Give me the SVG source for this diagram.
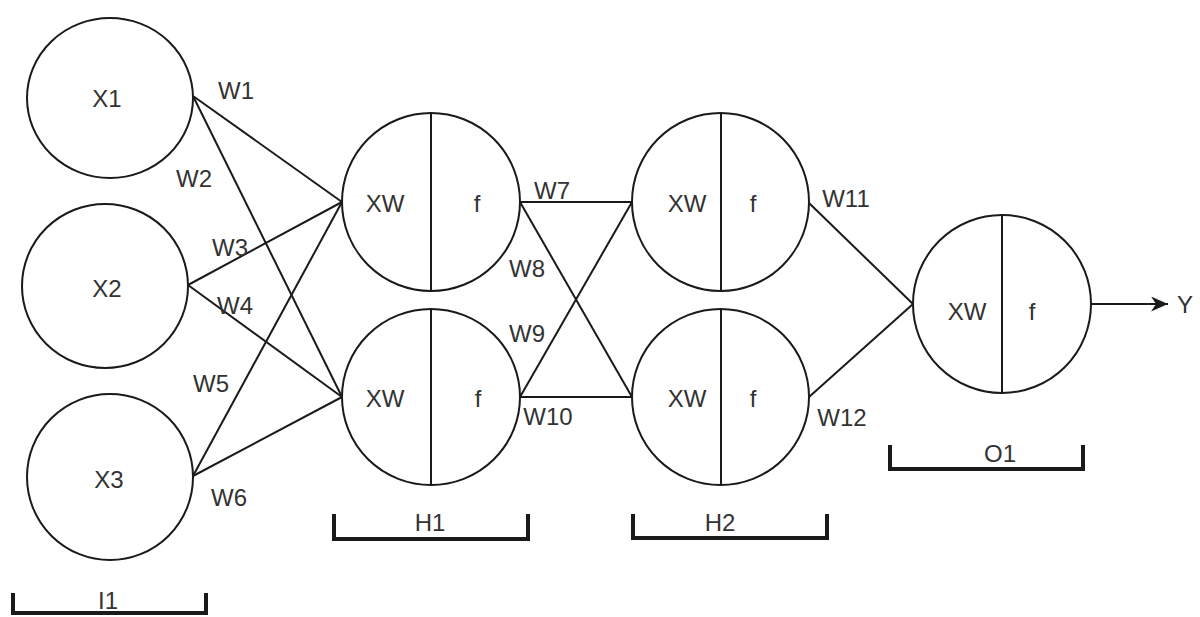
<svg xmlns="http://www.w3.org/2000/svg" width="1200" height="617" viewBox="0 0 1200 617">
<style>
.shape{fill:#fff;stroke:#1a1a1a;stroke-width:2}
.div{stroke:#1a1a1a;stroke-width:2}
.edge{stroke:#1a1a1a;stroke-width:2;fill:none}
.brk{stroke:#1a1a1a;stroke-width:4;fill:none}
text{font-family:"Liberation Sans",Arial,sans-serif;font-size:24px;fill:#333;text-anchor:middle;dominant-baseline:central}
</style>
<defs>
<marker id="arr" viewBox="0 0 10 10" refX="10" refY="5" markerWidth="17" markerHeight="15" markerUnits="userSpaceOnUse" orient="auto" preserveAspectRatio="none">
<path d="M0,0 L10,5 L0,10 L3,5 Z" fill="#1a1a1a"/>
</marker>
</defs>
<rect width="1200" height="617" fill="#fff"/>
<g id="connectors">
<line class="edge" x1="193" y1="96" x2="342" y2="202"/>
<line class="edge" x1="193" y1="96" x2="342" y2="397"/>
<line class="edge" x1="188" y1="285" x2="342" y2="202"/>
<line class="edge" x1="188" y1="285" x2="342" y2="397"/>
<line class="edge" x1="193" y1="476" x2="342" y2="202"/>
<line class="edge" x1="193" y1="476" x2="342" y2="397"/>
<line class="edge" x1="520" y1="202" x2="632" y2="202"/>
<line class="edge" x1="520" y1="202" x2="632" y2="397"/>
<line class="edge" x1="520" y1="397" x2="632" y2="202"/>
<line class="edge" x1="520" y1="397" x2="632" y2="397"/>
<line class="edge" x1="809" y1="203" x2="913" y2="304"/>
<line class="edge" x1="809" y1="397" x2="913" y2="304"/>
<line class="edge" x1="1091" y1="304" x2="1168" y2="304" marker-end="url(#arr)"/>
<text x="236" y="90">W1</text>
<text x="194" y="178">W2</text>
<text x="230" y="247">W3</text>
<text x="235" y="305">W4</text>
<text x="211" y="383">W5</text>
<text x="229" y="497">W6</text>
<text x="552" y="190">W7</text>
<text x="527" y="268">W8</text>
<text x="527" y="333">W9</text>
<text x="548" y="416">W10</text>
<text x="846" y="198">W11</text>
<text x="842" y="417">W12</text>
<text x="1185" y="304">Y</text>
</g>
<g id="X1"><ellipse class="shape" cx="110" cy="98" rx="83" ry="80"/><text x="107" y="98">X1</text></g>
<g id="X2"><ellipse class="shape" cx="105" cy="286" rx="83" ry="82"/><text x="107" y="288">X2</text></g>
<g id="X3"><ellipse class="shape" cx="110" cy="477" rx="83" ry="83"/><text x="109" y="479">X3</text></g>
<g id="H1a"><ellipse class="shape" cx="431" cy="202" rx="89" ry="89"/><line class="div" x1="431" y1="113" x2="431" y2="291"/><text x="385" y="203">XW</text><text x="477" y="203">f</text></g>
<g id="H1b"><ellipse class="shape" cx="431" cy="397" rx="89" ry="88"/><line class="div" x1="431" y1="309" x2="431" y2="485"/><text x="385" y="398">XW</text><text x="478" y="398">f</text></g>
<g id="H2a"><ellipse class="shape" cx="720.5" cy="202" rx="88.5" ry="89"/><line class="div" x1="721" y1="113" x2="721" y2="291"/><text x="687" y="203">XW</text><text x="753" y="203">f</text></g>
<g id="H2b"><ellipse class="shape" cx="720.5" cy="397" rx="88.5" ry="88"/><line class="div" x1="721" y1="309" x2="721" y2="485"/><text x="687" y="398">XW</text><text x="753" y="398">f</text></g>
<g id="O1"><ellipse class="shape" cx="1002" cy="304" rx="89" ry="89"/><line class="div" x1="1002" y1="215" x2="1002" y2="393"/><text x="967" y="311">XW</text><text x="1032" y="311">f</text></g>
<g id="I1-label"><polyline class="brk" points="13,593 13,613 206,613 206,593"/><text x="108" y="600">I1</text></g>
<g id="H1-label"><polyline class="brk" points="334,514 334,539 528,539 528,514"/><text x="430" y="522">H1</text></g>
<g id="H2-label"><polyline class="brk" points="633,514 633,538 827,538 827,514"/><text x="720" y="522">H2</text></g>
<g id="O1-label"><polyline class="brk" points="890,445 890,469 1083,469 1083,445"/><text x="1000" y="453">O1</text></g>
</svg>
